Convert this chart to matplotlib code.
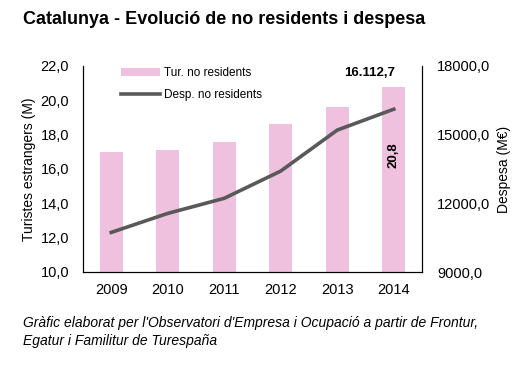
import numpy as np
import matplotlib.pyplot as plt

plt.rcParams['font.family'] = ['Liberation Sans', 'DejaVu Sans']

years = ['2009', '2010', '2011', '2012', '2013', '2014']
turistes = [17.0, 17.1, 17.6, 18.6, 19.6, 20.8]
despesa = [10730, 11560, 12220, 13410, 15200, 16112.7]

fig = plt.figure(figsize=(5.22, 3.68), dpi=100)
ax = fig.add_axes([83 / 522, 1 - 272 / 368, 339 / 522, 206 / 368])
ax2 = ax.twinx()

x = np.arange(len(years))
ax.bar(x, turistes, width=0.4, color='#efc1de', label='Tur. no residents', zorder=1)
ax2.plot(x, despesa, color='#595959', lw=2.6, label='Desp. no residents')

ax.set_ylim(10, 22)
ax.set_yticks(np.arange(10, 23, 2))
ax.set_yticklabels([f'{v:.1f}'.replace('.', ',') for v in np.arange(10, 23, 2)])
ax2.set_ylim(9000, 18000)
ax2.set_yticks([9000, 12000, 15000, 18000])
ax2.set_yticklabels(['9000,0', '12000,0', '15000,0', '18000,0'])
ax.set_xlim(-0.5, 5.5)
ax.set_xticks(x)
ax.set_xticklabels(years)

for a in (ax, ax2):
    a.tick_params(length=0, labelsize=10.5)
    a.spines['top'].set_visible(False)
ax.tick_params(axis='y', pad=10)
ax.tick_params(axis='x', pad=8)
ax2.tick_params(axis='y', pad=11)

ax.set_ylabel('Turistes estrangers (M)', fontsize=10, labelpad=3)
ax2.set_ylabel('Despesa (M€)', fontsize=10, labelpad=5)

ax2.text(x[-1] + 0.03, despesa[-1] + 1560, '16.112,7', ha='right', va='center',
         fontsize=9.5, fontweight='bold')
ax.text(x[-1], 16.8, '20,8', rotation=90, ha='center', va='center',
        fontsize=9.5, fontweight='bold')

h1, l1 = ax.get_legend_handles_labels()
h2, l2 = ax2.get_legend_handles_labels()
ax2.legend(h1 + h2, l1 + l2, loc='upper left', bbox_to_anchor=(0.08, 1.045),
           frameon=False, fontsize=8.5, handlelength=3.3, labelspacing=0.85,
           handletextpad=0.4)

fig.text(23 / 522, 1 - 20 / 368, 'Catalunya - Evolució de no residents i despesa',
         fontsize=13, fontweight='bold', va='center')
fig.text(23 / 522, 1 - 332 / 368,
         "Gràfic elaborat per l'Observatori d'Empresa i Ocupació a partir de Frontur,\nEgatur i Familitur de Turespaña",
         fontsize=10, style='italic', va='center', linespacing=1.3)

fig.savefig('out.png', dpi=100)
